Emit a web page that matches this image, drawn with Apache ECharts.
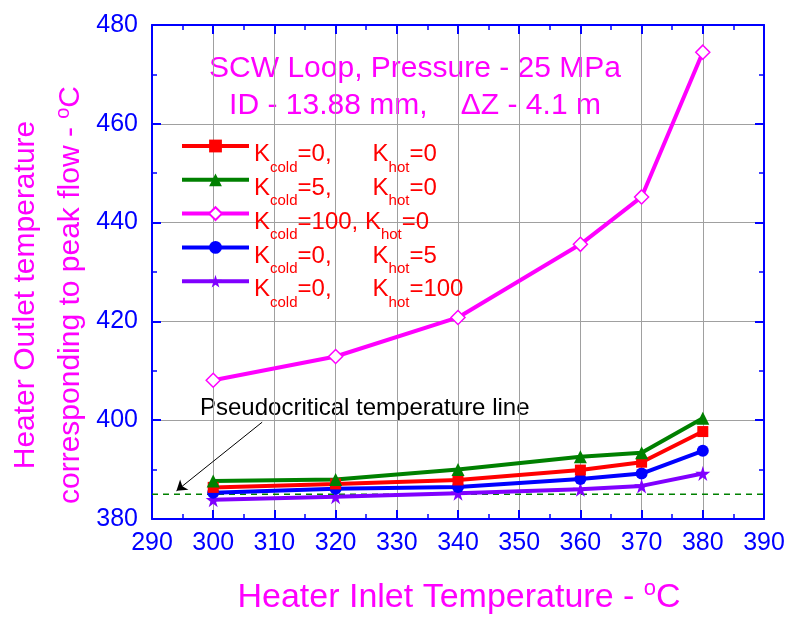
<!DOCTYPE html>
<html>
<head>
<meta charset="utf-8">
<script src="https://cdn.jsdelivr.net/npm/echarts@6/dist/echarts.min.js"></script>
<style>
html, body { margin: 0; padding: 0; background: #fff; }
#chart { width: 790px; height: 618px; }
</style>
</head>
<body>
<div id="chart"></div>
<script>
// data
var inletT = [300, 320, 340, 360, 370, 380];
var cold0hot0 = [386.4, 387.1, 387.9, 389.9, 391.5, 397.7];
var cold5hot0 = [387.7, 388.0, 390.0, 392.6, 393.4, 400.4];
var cold100hot0 = [408.1, 412.9, 420.8, 435.6, 445.2, 474.5];
var cold0hot5 = [385.3, 386.1, 386.5, 388.1, 389.2, 393.8];
var cold0hot100 = [383.9, 384.5, 385.2, 386.0, 386.7, 389.2];
var kCold = ['0', '5', '100', '0', '0'];
var kHot = ['0', '0', '0', '5', '100'];
var pseudoT = 385;
var xTicks = [290, 390, 10];
var yTicks = [380, 480, 20];

var font = "'Liberation Sans', Arial, sans-serif";
var seriesNames = [];
for (var i = 0; i < kCold.length; i++) {
    seriesNames.push('Kcold=' + kCold[i] + ', Khot=' + kHot[i]);
}

function pairs(ys) {
    return inletT.map(function (x, i) { return [x, ys[i]]; });
}

var starPath = 'path://M50,0 L61,35 L98,35 L68,57 L79,91 L50,70 L21,91 L32,57 L2,35 L39,35 Z';

function lineSeries(name, ys, color, symbol, size, fill) {
    return {
        name: name,
        type: 'line',
        data: pairs(ys),
        symbol: symbol,
        symbolSize: size,
        showAllSymbol: true,
        lineStyle: { color: color, width: 4 },
        itemStyle: fill ? { color: fill, borderColor: color, borderWidth: 1.5 } : { color: color },
        z: 3
    };
}

var chart = echarts.init(document.getElementById('chart'));

var axisBlue = '#0000ff';
var axisCommon = {
    type: 'value',
    axisLine: { show: true, onZero: false, lineStyle: { color: axisBlue, width: 2 } },
    axisTick: { show: true, inside: true, length: 9, lineStyle: { color: axisBlue, width: 2 } },
    minorTick: { show: true, splitNumber: 2, length: 5, lineStyle: { color: axisBlue, width: 1.5 } }
};

function mkAxis(range, extra) {
    return Object.assign({}, axisCommon, { min: range[0], max: range[1], interval: range[2] }, extra);
}

var option = {
    animation: false,
    backgroundColor: '#fff',
    grid: { left: 152, right: 26, top: 25, bottom: 99 },
    legend: {
        data: seriesNames,
        orient: 'vertical',
        left: 180,
        top: 134,
        padding: 0,
        itemGap: -7.2,
        itemWidth: 67,
        itemHeight: 16,
        selectedMode: false,
        lineStyle: { width: 4 },
        formatter: function (name) {
            var i = seriesNames.indexOf(name);
            var mid = kCold[i] === '100' ? '{k|=100, }' : '{v|=' + kCold[i] + ',}';
            return '{k|K}{s|cold}' + mid + '{k|K}{s|hot}{k|=' + kHot[i] + '}';
        },
        textStyle: {
            color: '#ff0000',
            fontFamily: font,
            rich: {
                k: { fontSize: 24, lineHeight: 24, color: '#ff0000', fontFamily: font, verticalAlign: 'top', padding: [8.5, 0, 0, 0] },
                v: { fontSize: 24, lineHeight: 24, color: '#ff0000', fontFamily: font, verticalAlign: 'top', padding: [8.5, 0, 0, 0], width: 75 },
                s: { fontSize: 15, lineHeight: 15, color: '#ff0000', fontFamily: font, verticalAlign: 'top', padding: [26, 0, 0, 0] }
            }
        }
    },
    xAxis: [
        mkAxis(xTicks, {
            position: 'bottom',
            axisLabel: { color: axisBlue, fontSize: 25, fontFamily: font, margin: 12 },
            splitLine: { show: true, lineStyle: { color: '#a0a0a0', width: 1 } }
        }),
        mkAxis(xTicks, {
            position: 'top',
            axisLabel: { show: false },
            splitLine: { show: false }
        })
    ],
    yAxis: [
        mkAxis(yTicks, {
            position: 'left',
            axisLabel: { color: axisBlue, fontSize: 25, fontFamily: font, margin: 14 },
            splitLine: { show: true, lineStyle: { color: '#a0a0a0', width: 1 } }
        }),
        mkAxis(yTicks, {
            position: 'right',
            axisLabel: { show: false },
            splitLine: { show: false }
        })
    ],
    graphic: [
        {
            type: 'text', x: 415, y: 87,
            style: {
                text: 'SCW Loop, Pressure - 25 MPa\nID - 13.88 mm,    \u0394Z - 4.1 m',
                fill: '#ff00ff', font: '30px ' + font, lineHeight: 36.7,
                align: 'center', verticalAlign: 'middle'
            }
        },
        {
            type: 'text', x: 200, y: 408,
            style: {
                text: 'Pseudocritical temperature line',
                fill: '#000', font: '24px ' + font,
                align: 'left', verticalAlign: 'middle'
            }
        },
        {
            type: 'text', x: 459, y: 598,
            style: {
                text: '{t|Heater Inlet Temperature - }{o|o}{t|C}',
                align: 'center', verticalAlign: 'middle',
                rich: {
                    t: { fontSize: 34, lineHeight: 38, fill: '#ff00ff', fontFamily: font },
                    o: { fontSize: 22, lineHeight: 22, fill: '#ff00ff', fontFamily: font, padding: [0, 0, 18, 0] }
                }
            }
        },
        {
            type: 'text', x: 48.5, y: 295, rotation: Math.PI / 2,
            style: {
                text: '{t|Heater Outlet temperature}\n{t|corresponding to peak flow - }{o|o}{t|C}',
                align: 'center', verticalAlign: 'middle',
                rich: {
                    t: { fontSize: 30, lineHeight: 45, fill: '#ff00ff', fontFamily: font },
                    o: { fontSize: 20, lineHeight: 20, fill: '#ff00ff', fontFamily: font, padding: [0, 0, 16, 0] }
                }
            }
        }
    ],
    series: [
        {
            name: 'Pseudocritical',
            type: 'line',
            data: [[xTicks[0], pseudoT], [xTicks[1], pseudoT]],
            symbol: 'none',
            lineStyle: { color: '#008000', width: 1.5, type: [6, 5] },
            z: 2,
            markLine: {
                silent: true,
                symbol: ['none', 'arrow'],
                symbolSize: 10,
                label: { show: false },
                lineStyle: { color: '#000', width: 1, type: 'solid' },
                data: [[{ coord: [308.0, 399.6] }, { coord: [294.0, 385.7] }]]
            }
        },
        lineSeries(seriesNames[2], cold100hot0, '#ff00ff', 'diamond', 14, '#ffffff'),
        lineSeries(seriesNames[4], cold0hot100, '#8000ff', starPath, 15),
        lineSeries(seriesNames[3], cold0hot5, '#0000ff', 'circle', 12),
        lineSeries(seriesNames[0], cold0hot0, '#ff0000', 'rect', 11),
        lineSeries(seriesNames[1], cold5hot0, '#008000', 'triangle', 13)
    ]
};

chart.setOption(option);
</script>
</body>
</html>
